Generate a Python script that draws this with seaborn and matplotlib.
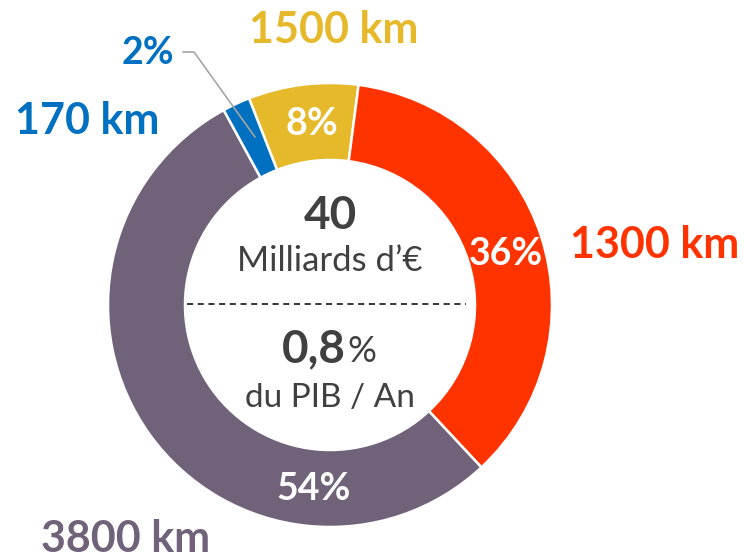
import matplotlib
matplotlib.use("Agg")
import matplotlib.pyplot as plt
import seaborn as sns

# ---- data ----
segments = ["jaune", "rouge", "violet", "bleu"]
pct_values = [8, 36, 54, 2]
km_labels = ["1500 km", "1300 km", "3800 km", "170 km"]
pct_labels = ["8%", "36%", "54%", "2%"]
colors = ["#E6B92B", "#FF3300", "#6F6279", "#0070C0"]
center_big = "40"
center_unit = "Milliards d\u2019\u20ac"
center_pct = "0,8"
center_sub = "du PIB / An"

sns.set_theme(style="white")
plt.rcParams["font.family"] = ["Lato", "DejaVu Sans"]

W, H = 744, 558
fig = plt.figure(figsize=(W / 100, H / 100), dpi=100)
ax = fig.add_axes([0, 0, 1, 1])

def Y(y):
    return H - y

cx, cy = 330, 305
R = 222
ring = 77

ax.pie(pct_values, colors=colors, startangle=90 + 21.4, counterclock=False,
       center=(cx, Y(cy)), radius=R, frame=True,
       wedgeprops=dict(width=ring, edgecolor="white", linewidth=1.8))
ax.set_xlim(0, W)
ax.set_ylim(0, H)
ax.set_aspect("equal")
ax.axis("off")

# percentage labels inside ring
pos_in = {"8%": (312, 124), "36%": (506, 254), "54%": (314, 489)}
for lab in pct_labels[:3]:
    x, y = pos_in[lab]
    ax.text(x, Y(y), lab, color="white", fontsize=27, fontweight="bold",
            ha="center", va="center")

# outside km labels
km_pos = {"1500 km": (334, 30), "1300 km": (655, 245), "3800 km": (126, 539), "170 km": (87, 121)}
for lab, col in zip(km_labels, colors):
    x, y = km_pos[lab]
    ax.text(x, Y(y), lab, color=col, fontsize=31, fontweight="bold",
            ha="center", va="center")

# 2% label with leader line
ax.text(148, Y(53), pct_labels[3], color=colors[3], fontsize=27, fontweight="bold",
        ha="center", va="center")
ax.plot([183, 194, 255], [Y(52), Y(52), Y(137)], color="#A6A6A6", lw=1.2)

# center texts
dark = "#404040"
ax.text(cx, Y(216), center_big, color=dark, fontsize=33, fontweight="bold",
        ha="center", va="center")
ax.text(cx, Y(261), center_unit, color=dark, fontsize=25,
        ha="center", va="center")
ax.plot([187, 466], [Y(304), Y(304)], color="black", lw=1.1, ls=(0, (4, 3)))
ax.text(346, Y(362), center_pct, color=dark, fontsize=33, fontweight="bold",
        ha="right", va="baseline")
ax.text(347, Y(362), "%", color=dark, fontsize=26,
        ha="left", va="baseline")
ax.text(cx, Y(398), center_sub, color=dark, fontsize=24,
        ha="center", va="center")

fig.savefig("out.png", dpi=100)
